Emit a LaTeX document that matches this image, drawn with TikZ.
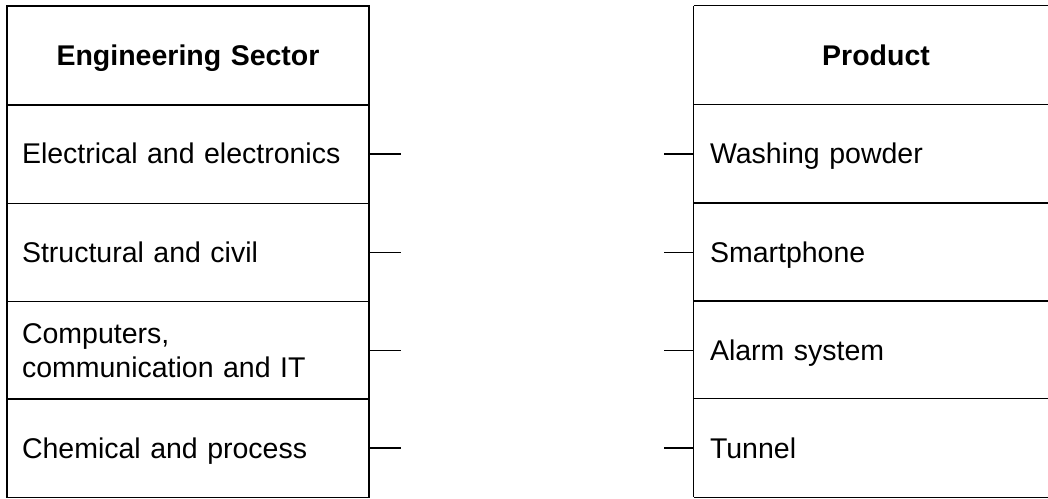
\documentclass[tikz,border=0pt]{standalone}
\usepackage{fontspec}
\setmainfont{Liberation Sans}
\begin{document}
\begin{tikzpicture}[x=1pt,y=1pt,
  cell/.style={rectangle, minimum height=98.5pt,
    text width=332pt, inner xsep=15pt, inner ysep=0pt, align=left,
    font=\fontsize{28.5}{34}\selectfont},
  one/.style={text height=21pt, text depth=1pt},
  lcell/.style={cell, draw=black, line width=1.1pt, minimum width=362pt},
  rcell/.style={cell, minimum width=364pt},
  head/.style={align=center, font=\fontsize{28.5}{34}\selectfont\bfseries},
  rule/.style={draw=black, line width=1.1pt},
  tick/.style={draw=black, line width=1.3pt}]
\useasboundingbox (0,0) rectangle (1048,498);
\coordinate (edge) at (1048,0);
% left table
\node[lcell, head, one, minimum height=99pt] (LH) at (188,442.5) {Engineering Sector};
\node[lcell, one] (L1) at (188,344) {Electrical and electronics};
\node[lcell, one] (L2) at (188,245.5) {Structural and civil};
\node[lcell] (L3) at (188,147.5) {Computers,\\communication and IT};
\node[lcell, one] (L4) at (188,50) {Chemical and process};
% right table (its right edge lies beyond the picture)
\node[rcell, head, one, minimum height=99pt] (RH) at (876,442.5) {Product};
\node[rcell, one] (R1) at (876,344) {Washing powder};
\node[rcell, one] (R2) at (876,245.5) {Smartphone};
\node[rcell, one] (R3) at (876,147.5) {Alarm system};
\node[rcell, one] (R4) at (876,50) {Tunnel};
\draw[rule] (RH.north west) -- (R4.south west);
\foreach \n in {RH,R1,R2,R3,R4}{
  \draw[rule] (\n.north west) -- (\n.north west -| edge);
}
\draw[rule] (R4.south west) -- (R4.south west -| edge);
% ticks
\foreach \n in {1,2,3,4}{
  \draw[tick] (L\n.east) -- ++(31,0);
  \draw[tick] (R\n.west) -- ++(-30,0);
}
\end{tikzpicture}
\end{document}
